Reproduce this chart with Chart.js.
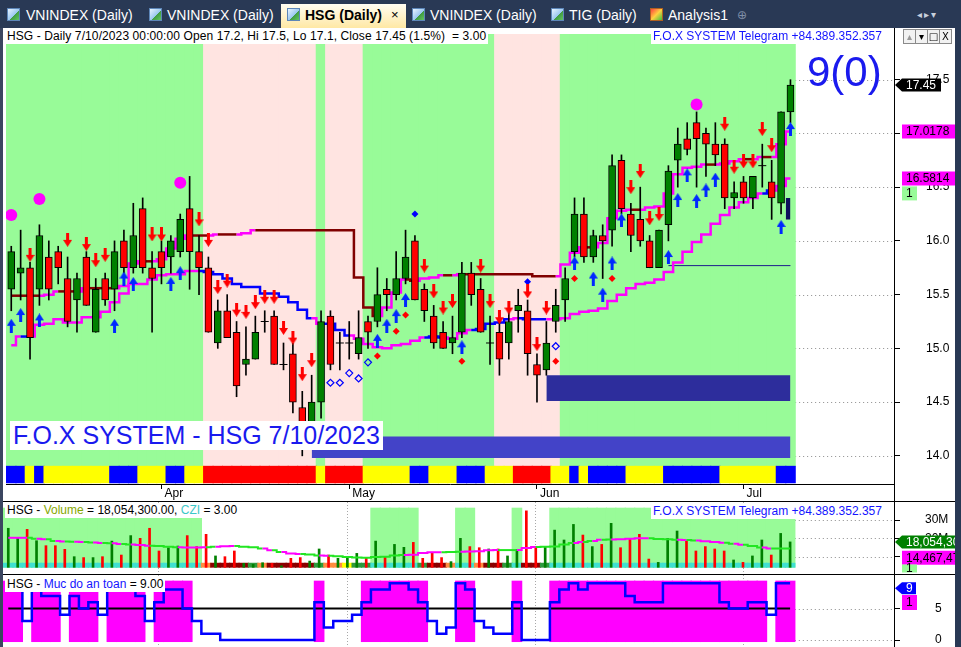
<!DOCTYPE html>
<html>
<head>
<meta charset="utf-8">
<title>HSG (Daily)</title>
<script src="https://cdn.jsdelivr.net/npm/chart.js"></script>
<style>
  html, body { margin: 0; padding: 0; background: #fff; }
  #screen { position: relative; width: 961px; height: 647px; overflow: hidden; background: #fff;
            font-family: "Liberation Sans", Arial, sans-serif; }
  canvas { position: absolute; left: 0; }
  #tabs { position: absolute; left: 0; top: 0; width: 961px; height: 28px; background: #293955; }
  .tab { position: absolute; top: 6px; height: 18px; line-height: 18px; font-size: 14px; color: #fff; white-space: nowrap; }
  .ico { position: absolute; top: 8px; width: 13px; height: 13px; box-sizing: border-box;
         background: linear-gradient(135deg, #e8f4ff 0%, #9cc8f0 55%, #3f9b3f 56%, #62c462 100%); border: 1px solid #5d86b8; }
  #activeTab { position: absolute; left: 281px; top: 4px; width: 125px; height: 24px;
               background: linear-gradient(#fffdf2, #ffe8a4); }
  .lbl { position: absolute; background: #fff; font-size: 12px; height: 15px; line-height: 15px;
         white-space: pre; padding: 0 2px; color: #000; }
  .blue { color: #1414ff; }
  .hline { position: absolute; left: 0; width: 955px; height: 1px; background: #000; }
  .btn { position: absolute; top: 29px; width: 11px; height: 13px; border: 1px solid #8a8a8a; background: #f2f2f2;
         font-size: 10px; line-height: 13px; text-align: center; color: #000; font-family: "DejaVu Sans", sans-serif; }
</style>
</head>
<body>
<div id="screen">
  <div id="tabs">
    <div id="activeTab"></div>
    <i class="ico" style="left:7px"></i><div class="tab" style="left:26px">VNINDEX (Daily)</div>
    <i class="ico" style="left:149px"></i><div class="tab" style="left:167px">VNINDEX (Daily)</div>
    <i class="ico" style="left:287px"></i><div class="tab" style="left:305px;color:#000;font-weight:bold">HSG (Daily)</div>
    <div class="tab" style="left:391px;color:#000;font-size:13px">×</div>
    <i class="ico" style="left:412px"></i><div class="tab" style="left:430px">VNINDEX (Daily)</div>
    <i class="ico" style="left:551px"></i><div class="tab" style="left:569px">TIG (Daily)</div>
    <i class="ico" style="left:650px;background:linear-gradient(135deg,#ff4040 0%,#ffd040 50%,#40c040 100%);border-color:#b06020"></i>
    <div class="tab" style="left:668px">Analysis1</div>
    <div class="tab" style="left:737px;color:#8090a8;font-family:'DejaVu Sans',sans-serif;font-size:12px">⊕</div>
    <div class="tab" style="left:917px;color:#c8d0dc;font-family:'DejaVu Sans',sans-serif;font-size:10px;letter-spacing:2px">◂▸▾</div>
  </div>

  <canvas id="priceChart" width="955" height="473" style="top:28px"></canvas>
  <canvas id="volChart" width="955" height="72" style="top:502px"></canvas>
  <canvas id="safeChart" width="955" height="72" style="top:575px"></canvas>

  <div class="hline" style="top:501px"></div>
  <div class="hline" style="top:574px"></div>
  <div style="position:absolute;left:894px;top:28px;width:1px;height:619px;background:#000"></div>
  <div style="position:absolute;left:0;top:28px;width:3px;height:619px;background:#3b4660"></div>
  <div style="position:absolute;left:955px;top:28px;width:6px;height:619px;background:#293955"></div>

  <div id="lblMain" class="lbl" style="left:5px;top:29px;letter-spacing:0.1px"></div>
  <div class="lbl blue" style="left:651px;top:29px">F.O.X SYSTEM Telegram +84.389.352.357</div>
  <div class="btn" style="left:903px;color:#999">▴</div>
  <div class="btn" style="left:915px">▾</div>
  <div class="btn" style="left:927px">□</div>
  <div class="btn" style="left:939px">X</div>
  <div style="position:absolute;left:807px;top:47px;font-size:42px;line-height:50px;color:#1a1aee">9(0)</div>
  <div style="position:absolute;left:10px;top:421px;width:370px;height:29px;line-height:29px;padding-left:3px;background:#fff;color:#1a1aee;font-size:25px;white-space:nowrap">F.O.X SYSTEM - HSG 7/10/2023</div>

  <div id="lblVol" class="lbl" style="left:5px;top:503px"></div>
  <div class="lbl blue" style="left:651px;top:504px">F.O.X SYSTEM Telegram +84.389.352.357</div>
  <div id="lblSafe" class="lbl" style="left:5px;top:577px"></div>
</div>

<script>
// HSG daily, 10 Mar - 10 Jul 2023

const opens = [15.55,15.7,15.75,15.55,15.85,15.9,15.65,15.45,15.85,15.15,
  15.65,15.55,16.0,15.75,16.3,15.75,15.9,15.85,15.9,16.3,
  15.9,15.75,15.05,15.35,15.15,14.85,14.9,15.25,15.3,14.85,
  14.95,14.45,14.3,14.5,15.3,15.05,15.05,14.95,15.25,15.25,
  15.55,15.5,15.65,16.0,15.55,15.3,15.15,15.05,15.15,15.7,
  15.55,15.05,15.15,15.05,15.35,15.35,14.85,14.8,15.25,15.45,
  15.9,16.25,15.85,16.05,16.1,16.75,16.25,16.2,16.0,15.75,
  16.15,16.75,16.95,17.1,17.0,16.9,16.9,16.4,16.55,16.4,
  16.7,16.55,16.35,17.2];
const highs = [15.95,16.1,15.8,16.15,16.0,15.95,15.85,15.7,15.9,15.65,
  15.7,16.0,16.1,16.35,16.4,15.9,16.0,16.05,16.25,16.6,
  16.05,15.85,15.45,15.5,15.25,15.2,15.3,15.35,15.35,15.05,
  15.05,14.6,14.75,15.35,15.35,15.15,15.25,15.35,15.3,15.75,
  15.65,15.9,16.1,16.05,15.6,15.4,15.25,15.3,15.8,15.8,
  15.65,15.3,15.25,15.35,15.55,15.45,14.95,15.25,15.55,15.75,
  16.4,16.4,16.1,16.15,16.8,16.8,16.35,16.5,16.05,16.1,
  16.7,17.05,17.1,17.2,17.05,17.1,16.95,16.55,16.6,16.6,
  16.9,16.75,17.2,17.5];
const lows = [15.35,15.45,14.9,15.4,15.45,15.6,15.2,15.15,15.4,15.15,
  15.4,15.35,15.7,15.7,15.7,15.15,15.6,15.7,15.85,15.55,
  15.5,15.15,15.0,15.1,14.55,14.75,14.9,15.15,14.85,14.8,
  14.4,14.0,14.25,14.35,14.8,14.8,14.9,14.9,15.0,15.2,
  15.35,15.45,15.6,15.45,15.25,15.0,15.0,14.95,15.1,15.4,
  15.15,14.85,14.75,14.9,15.15,14.75,14.5,14.75,15.15,15.25,
  15.85,15.8,15.8,15.65,15.95,16.25,15.9,15.95,15.75,15.75,
  16.0,16.5,16.8,16.5,16.6,16.7,16.3,16.3,16.35,16.3,
  16.5,16.2,16.25,17.1];
const closes = [15.9,15.75,15.1,16.05,15.55,15.75,15.25,15.65,15.4,15.55,
  15.45,15.9,15.75,16.05,15.75,15.65,15.75,16.0,16.2,15.9,
  15.75,15.15,15.35,15.1,14.65,14.9,15.15,15.25,14.85,14.85,
  14.5,14.3,14.5,15.25,14.85,15.05,15.05,15.1,15.15,15.5,
  15.5,15.65,15.85,15.45,15.35,15.05,15.0,15.1,15.7,15.5,
  15.15,15.05,14.9,15.25,15.4,14.95,14.75,15.05,15.4,15.65,
  16.25,15.85,16.05,16.0,16.7,16.3,16.05,16.0,15.75,16.1,
  16.65,16.9,16.85,16.95,16.9,16.8,16.4,16.45,16.4,16.6,
  16.7,16.4,17.2,17.45];

// volume in millions of shares, and its moving average
const volumes = [25.5,20.0,24.9,18.7,16.0,16.0,14.0,10.0,9.5,9.5,
  10.0,18.5,10.9,21.5,20.0,25.5,13.1,14.9,15.8,21.5,
  15.5,22.2,10.4,10.0,13.1,6.4,5.8,6.7,6.4,5.0,
  9.1,9.5,7.6,14.2,10.9,9.1,9.1,11.8,9.1,18.5,
  10.0,16.7,15.1,17.8,9.1,12.4,9.5,7.3,20.0,15.5,
  14.9,14.2,14.2,10.4,14.0,35.0,15.5,15.5,24.5,19.1,
  27.6,21.8,15.5,16.7,28.2,14.9,20.0,22.2,8.7,6.9,
  20.0,24.0,18.5,13.1,15.5,14.2,13.1,8.2,6.9,10.4,
  19.1,10.9,22.7,18.0543];
const volAvg = [20.3,20.3,20.3,19.8,19.5,18.5,18.3,18.1,18.0,17.8,
  17.5,17.3,16.9,16.7,16.4,16.0,15.8,15.4,15.2,15.0,
  15.0,15.2,15.4,15.7,15.8,15.4,15.2,14.5,13.5,12.5,
  11.8,11.4,11.2,10.7,10.5,10.2,9.8,9.5,9.4,9.8,
  10.0,10.6,10.9,11.0,12.0,12.4,12.4,12.6,12.7,12.8,
  13.0,13.5,13.6,13.6,13.6,14.8,15.3,15.4,15.6,16.6,
  17.4,18.0,18.5,19.2,19.4,19.5,19.8,20.0,20.0,19.7,
  19.5,19.3,19.1,18.8,18.4,18.0,17.6,17.0,16.5,15.8,
  15.0,14.5,14.5,14.46747];
// CZI state: 0 weak, 1 falling, 2 neutral, 3 strong, 4 turning
const czi = [3,3,3,3,3,3,3,3,3,3, 3,3,3,3,3,3,3,3,3,3,
  3,1,0,0,0,0,2,1,0,0, 0,0,0,2,1,1,4,2,2,3,
  3,3,3,3,2,0,0,1,3,3, 1,0,0,2,3,0,0,2,3,3,
  3,3,3,3,3,3,3,3,3,3, 3,3,3,3,3,3,3,3,3,3,
  3,3,3,3];

// trailing stop (lower line) and trend line (upper line)
const trailStop = [15.03,15.11,15.11,15.22,15.23,15.27,15.24,15.24,15.29,15.29,
  15.34,15.43,15.51,15.60,15.60,15.64,15.68,15.69,15.69,15.72,
  15.72,15.71,15.69,15.65,15.60,15.57,15.57,15.51,15.51,15.48,
  15.43,15.36,15.28,15.23,15.23,15.17,15.12,15.09,15.04,15.01,
  15.00,15.03,15.04,15.07,15.10,15.11,15.10,15.09,15.14,15.17,
  15.18,15.23,15.24,15.27,15.28,15.27,15.27,15.27,15.27,15.28,
  15.32,15.34,15.35,15.37,15.44,15.50,15.56,15.60,15.61,15.64,
  15.71,15.80,15.90,15.99,16.06,16.16,16.24,16.31,16.36,16.40,
  16.44,16.47,16.51,16.5814];
const trendLine = [15.49,15.49,15.49,15.49,15.50,15.53,15.53,15.53,15.56,15.56,
  15.56,15.56,15.58,15.79,15.81,15.81,15.83,15.93,16.02,16.05,
  16.05,16.05,16.06,16.06,16.06,16.07,16.10,16.10,16.10,16.10,
  16.10,16.10,16.10,16.10,16.10,16.10,16.10,15.66,15.38,15.30,
  15.38,15.52,15.64,15.63,15.65,15.66,15.68,15.68,15.69,15.69,
  15.69,15.69,15.69,15.69,15.69,15.69,15.67,15.67,15.67,15.78,
  15.89,15.94,15.94,15.98,16.21,16.28,16.29,16.29,16.31,16.32,
  16.44,16.62,16.68,16.69,16.71,16.71,16.72,16.74,16.76,16.76,
  16.78,16.78,16.90,17.0178];

// "Muc do an toan" (safety level 0-9)
const safety = [8,8,3,8,7,7,4,7,5,6, 4,8,8,8,7,3,6,8,8,5,
  3,1,1,0,0,0,0,0,0,0, 0,0,0,6,2,3,3,4,6,8,
  8,9,9,8,6,3,1,2,9,8, 3,2,1,1,6,0,0,0,6,8,
  9,8,9,9,9,9,7,6,6,6, 9,9,9,9,9,9,6,5,5,6,
  6,4,9,9];

// trend zones: 1 = up (green), 0 = down (pink)
const trendZone = [1,1,1,1,1,1,1,1,1,1, 1,1,1,1,1,1,1,1,1,1,
  1,0,0,0,0,0,0,0,0,0, 0,0,0,1,0,0,0,0,1,1,
  1,1,1,1,1,1,1,1,1,1, 1,1,0,0,0,0,0,0,0,1,
  1,1,1,1,1,1,1,1,1,1, 1,1,1,1,1,1,1,1,1,1,
  1,1,1,1];
const volZone = [1,1,1,1,1,1,1,1,1,1, 1,1,1,1,1,1,1,1,1,1,
  1,0,0,0,0,0,0,0,0,0, 0,0,0,0,0,0,0,0,0,1,
  1,1,1,1,0,0,0,0,1,1, 0,0,0,0,1,0,0,0,1,1,
  1,1,1,1,1,1,1,1,1,1, 1,1,1,1,1,1,1,1,1,1,
  1,1,1,1];
// bottom signal strip: 0 sell, 1 wait, 2 buy
const signalStrip = [2,2,1,2,1,1,1,1,1,1, 1,2,2,2,1,1,1,2,2,1,
  1,0,0,0,0,0,0,0,0,0, 0,0,0,1,0,0,0,0,1,1,
  1,1,1,2,2,1,1,1,2,2, 2,1,1,1,0,0,0,0,1,1,
  2,1,2,2,2,2,1,1,1,1, 2,2,2,2,2,2,1,1,1,1,
  1,1,2,2];

// signal markers (bar number, price level)
const sellBars = [3,7,9,10,11,16,17,21,22,23,24,25,26,27,28,29,30,31,32,33,45,46,47,48,51,52,53,54,56,57,58,67,68,69,70,77,78,79,80,81,82];
const sellLevels = [15.87,16.01,15.97,15.82,15.87,16.06,16.06,16.20,16.01,15.57,15.63,15.36,15.34,15.43,15.48,15.48,15.19,15.10,14.76,14.89,15.77,15.53,15.38,15.44,15.77,15.44,15.29,15.38,15.53,15.04,15.38,16.50,16.65,16.21,16.25,17.09,16.69,16.74,16.74,17.04,16.89];
const buyBars = [1,2,4,12,13,14,18,19,40,41,42,43,49,61,63,64,65,66,71,72,73,74,75,76,83,84];
const buyLevels = [15.21,15.31,15.26,15.21,15.65,15.60,15.60,15.70,15.07,15.21,15.30,15.45,15.01,15.79,15.65,15.50,15.79,16.19,15.85,16.38,16.61,16.37,16.47,16.57,16.13,17.04];
const peakBars = [1,4,19,74];
const peakLevels = [16.24,16.39,16.54,17.27];
const breakBars = [44,56];
const breakLevels = [16.25,15.62];
const weakBars = [35,36,37,38,39,59];
const weakLevels = [14.68,14.68,14.77,14.72,14.87,15.02];
const dotBars = [40,42,43,49,59,61,65];
const dotLevels = [14.93,15.16,15.31,14.88,14.88,15.65,15.65];

// price zones
const zoneFrom = [33,58,83.5];
const zoneTo = [84,84,84];
const zoneTop = [14.18,14.75,16.40];
const zoneBottom = [13.98,14.51,16.20];
const supportBars = [71,84];
const supportLevel = 15.77;

const monthBars = [17,37,57,79];
const monthNames = ['Apr','May','Jun','Jul'];
const priceTicks = [14,14.5,15,15.5,16,16.5,17,17.5];
const volTicks = [10,20,30];
const safetyTicks = [0,5];

// ---------------------------------------------------------------

Chart.defaults.font.family = '"Liberation Sans", Arial, sans-serif';
Chart.defaults.font.size = 12;
Chart.defaults.color = '#000';

const N = opens.length;
const barIdx = opens.map((_, i) => i + 1);
const X_MIN = 0.44, X_MAX = 95.03;
const GREEN_BG = '#98fb98', PINK_BG = '#ffe4e1', MAGENTA = '#ff00ff';
const UP = '#008000', DOWN = '#ff0000';
const VOL_BASE = 4.2, SAFE_LEVEL = 5;

const pts = (bars, levels) => bars.map((b, i) => ({ x: b, y: levels[i] }));
const series = values => values.map((v, i) => ({ x: i + 1, y: v }));
const candleColor = i => closes[i] >= opens[i] ? UP : DOWN;

function makeArrow(color, up) {
    const c = document.createElement('canvas');
    c.width = 9; c.height = 14;
    const g = c.getContext('2d');
    g.fillStyle = color;
    g.beginPath();
    if (up) {
        g.moveTo(4.5, 0); g.lineTo(9, 7); g.lineTo(6, 7); g.lineTo(6, 14);
        g.lineTo(3, 14); g.lineTo(3, 7); g.lineTo(0, 7);
    } else {
        g.moveTo(3, 0); g.lineTo(6, 0); g.lineTo(6, 7); g.lineTo(9, 7);
        g.lineTo(4.5, 14); g.lineTo(0, 7); g.lineTo(3, 7);
    }
    g.closePath();
    g.fill();
    return c;
}

// dotted grid only in the empty area right of the last bar
const rightGrid = {
    id: 'rightGrid',
    beforeDatasetsDraw(chart) {
        const { ctx, chartArea, scales: { x, y } } = chart;
        const x0 = x.getPixelForValue(N + 0.5);
        ctx.save();
        ctx.strokeStyle = '#8c8c8c';
        ctx.lineWidth = 1;
        ctx.setLineDash([1, 3]);
        y.ticks.forEach(t => {
            const py = Math.round(y.getPixelForValue(t.value)) + 0.5;
            ctx.beginPath();
            ctx.moveTo(x0, py);
            ctx.lineTo(chartArea.right, py);
            ctx.stroke();
        });
        ctx.restore();
    }
};

// value tags on the right axis
const tagPlugin = {
    id: 'tags',
    afterDraw(chart, args, opts) {
        const { ctx, chartArea, scales: { y } } = chart;
        ctx.save();
        ctx.font = '12px "Liberation Sans", Arial, sans-serif';
        ctx.textBaseline = 'middle';
        (opts.items || []).forEach(t => {
            const cy = y.getPixelForValue(t.value) + (t.dy || 0);
            const h = t.h || 14, w = t.w || 53;
            const x0 = chartArea.right + (t.arrow ? 1 : 8);
            ctx.fillStyle = t.bg;
            ctx.beginPath();
            if (t.arrow) {
                ctx.moveTo(x0, cy);
                ctx.lineTo(x0 + 7, cy - h / 2);
                ctx.lineTo(x0 + 7 + w, cy - h / 2);
                ctx.lineTo(x0 + 7 + w, cy + h / 2);
                ctx.lineTo(x0 + 7, cy + h / 2);
                ctx.closePath();
            } else {
                ctx.rect(x0, cy - h / 2, w, h);
            }
            ctx.fill();
            ctx.fillStyle = t.fg;
            ctx.fillText(t.text, x0 + (t.arrow ? 11 : 4), cy + 0.5);
        });
        ctx.restore();
    }
};

function rightAxis(min, max, ticks, fmt, pad) {
    return {
        position: 'right', min, max,
        afterBuildTicks: s => { s.ticks = ticks.map(v => ({ value: v })); },
        grid: { drawOnChartArea: false, drawTicks: true, tickLength: 6, tickColor: '#000' },
        border: { display: true, color: '#000', width: 1 },
        ticks: { crossAlign: 'center', padding: pad, color: '#000', callback: fmt },
        afterFit: s => { s.width = 61; s.paddingTop = 0; s.paddingBottom = 0; }
    };
}

function panelAxisX() {
    return {
        type: 'linear', min: X_MIN, max: X_MAX, offset: false,
        afterBuildTicks: s => { s.ticks = monthBars.map(v => ({ value: v })); },
        grid: { offset: false, drawOnChartArea: true, drawTicks: false, color: '#a8a8a8' },
        border: { display: false, dash: [1, 2] },
        ticks: { display: false },
        afterFit: s => { s.height = 0; s.paddingLeft = 0; s.paddingRight = 0; }
    };
}

function baseOptions(x, y, tags) {
    return {
        responsive: false, animation: false, events: [],
        layout: { padding: { left: 3, top: 0, right: 0, bottom: 0 } },
        plugins: { legend: { display: false }, tooltip: { enabled: false }, tags: { items: tags } },
        scales: { x, y }
    };
}

const fmtVol = v => Math.round(v * 1e6).toLocaleString('en-US');
const lastO = opens[N - 1], lastH = highs[N - 1], lastL = lows[N - 1], lastC = closes[N - 1];
const chg = ((lastC / closes[N - 2] - 1) * 100).toFixed(1);

document.getElementById('lblMain').textContent =
    `HSG - Daily 7/10/2023 00:00:00 Open ${lastO}, Hi ${lastH}, Lo ${lastL}, Close ${lastC} (${chg}%)  = 3.00`;
document.getElementById('lblVol').innerHTML =
    `HSG - <span style="color:#86a800">Volume</span> = ${(volumes[N - 1] * 1e6).toLocaleString('en-US', { minimumFractionDigits: 2 })}, <span style="color:#3cc8c8">CZI</span> = 3.00`;
document.getElementById('lblSafe').innerHTML =
    `HSG - <span class="blue">Muc do an toan</span> = ${safety[N - 1].toFixed(2)}`;

// ---------- price panel ----------
const bodyIdx = [], dojiIdx = [];
opens.forEach((o, i) => (o === closes[i] ? dojiIdx : bodyIdx).push(i));
const stripColors = ['#ff0000', '#ffff00', '#0000ff'];
const zoneColors = ['#4343c8', '#2d2d9c', '#0e0e5c'];

const priceDatasets = [
    { type: 'line', data: pts(sellBars, sellLevels), showLine: false, pointStyle: makeArrow('#ff0000', false), pointRadius: 5, order: 1 },
    { type: 'line', data: pts(buyBars, buyLevels), showLine: false, pointStyle: makeArrow('#0028ff', true), pointRadius: 5, order: 1 },
    { type: 'line', data: pts(peakBars, peakLevels), showLine: false, pointStyle: 'circle', pointRadius: 6,
      pointBackgroundColor: MAGENTA, pointBorderWidth: 0, order: 1 },
    { type: 'line', data: pts(breakBars, breakLevels), showLine: false, pointStyle: 'rectRot', pointRadius: 3.5,
      pointBackgroundColor: '#0000ff', pointBorderWidth: 0, order: 1 },
    { type: 'line', data: pts(weakBars, weakLevels), showLine: false, pointStyle: 'rectRot', pointRadius: 3.5,
      pointBackgroundColor: 'rgba(0,0,0,0)', pointBorderColor: '#0000ff', pointBorderWidth: 1.2, order: 1 },
    { type: 'line', data: pts(dotBars, dotLevels), showLine: false, pointStyle: 'rectRot', pointRadius: 3.5,
      pointBackgroundColor: '#ff0000', pointBorderWidth: 0, order: 1 },
    { type: 'line', data: dojiIdx.map(i => ({ x: i + 1, y: closes[i] })), showLine: false, pointStyle: 'line',
      pointRadius: 4, pointBorderColor: '#000', pointBorderWidth: 1, order: 2 },
    { type: 'bar', data: bodyIdx.map(i => ({ x: i + 1, y: [opens[i], closes[i]] })),
      backgroundColor: bodyIdx.map(candleColor), borderColor: '#000', borderWidth: 1, borderSkipped: false,
      barThickness: 7, grouped: false, order: 3 },
    { type: 'bar', data: barIdx.map((b, i) => ({ x: b, y: [lows[i], highs[i]] })),
      backgroundColor: '#000', barThickness: 1, grouped: false, order: 4 },
    { type: 'line', data: series(trailStop), stepped: 'middle', borderWidth: 2.5, pointRadius: 0, order: 5,
      segment: { borderColor: c => closes[c.p1DataIndex] < trailStop[c.p1DataIndex] ? '#0000ff' : MAGENTA } },
    { type: 'line', data: series(trendLine), stepped: 'middle', borderWidth: 2.5, pointRadius: 0, order: 5,
      segment: { borderColor: c => c.p1.parsed.y > c.p0.parsed.y ? MAGENTA : '#800000' } },
    { type: 'line', data: supportBars.map(b => ({ x: b, y: supportLevel })), borderColor: '#1c1c8c',
      borderWidth: 1, pointRadius: 0, order: 5 },
    ...zoneFrom.map((f, k) => ({
        type: 'line', data: [{ x: f, y: zoneTop[k] }, { x: zoneTo[k], y: zoneTop[k] }],
        borderColor: 'rgba(0,0,0,0)', borderWidth: 0, pointRadius: 0,
        backgroundColor: zoneColors[k], fill: { value: zoneBottom[k] }, order: 6
    })),
    { type: 'bar', data: barIdx.map(b => ({ x: b, y: [13.748, 13.904] })),
      backgroundColor: signalStrip.map(s => stripColors[s]), barThickness: 10, grouped: false, order: 7 },
    { type: 'bar', data: barIdx.map(b => ({ x: b, y: [13.904, 17.925] })),
      backgroundColor: trendZone.map(z => z ? GREEN_BG : PINK_BG), barThickness: 10, grouped: false, order: 8 }
];

const priceX = {
    type: 'linear', min: X_MIN, max: X_MAX, offset: false,
    afterBuildTicks: s => { s.ticks = monthBars.map(v => ({ value: v })); },
    grid: { offset: false, drawOnChartArea: false, drawTicks: true, tickLength: 5, tickColor: '#000' },
    border: { display: true, color: '#000', width: 1 },
    ticks: { align: 'start', labelOffset: 3, padding: -3, maxRotation: 0, autoSkip: false, color: '#000',
             callback: v => monthNames[monthBars.indexOf(v)] },
    afterFit: s => { s.height = 17; s.paddingLeft = 0; s.paddingRight = 0; }
};

new Chart(document.getElementById('priceChart'), {
    type: 'bar',
    data: { datasets: priceDatasets },
    options: baseOptions(priceX, rightAxis(13.738, 17.925, priceTicks, v => v.toFixed(1), 26), [
        { value: lastC, text: lastC.toFixed(2), bg: '#000', fg: '#fff', arrow: true, w: 39, h: 13 },
        { value: trendLine[N - 1], text: trendLine[N - 1].toFixed(4), bg: MAGENTA, fg: '#000' },
        { value: trailStop[N - 1], text: trailStop[N - 1].toFixed(4), bg: MAGENTA, fg: '#000' },
        { value: trailStop[N - 1], dy: 15, text: '1', bg: GREEN_BG, fg: '#000', w: 15 }
    ]),
    plugins: [rightGrid, tagPlugin]
});

// ---------- volume panel ----------
const cziColors = ['#8b0000', '#ff8c40', '#2e9a3e', '#40e0d0', '#ffff00'];

new Chart(document.getElementById('volChart'), {
    type: 'bar',
    data: { datasets: [
        { type: 'line', data: series(volAvg), stepped: 'middle', borderWidth: 2, pointRadius: 0, order: 1,
          segment: { borderColor: c => {
              const i = c.p1DataIndex;
              return closes[i] >= closes[i - 1] ? '#22e622' : MAGENTA;
          } } },
        { type: 'bar', data: barIdx.map((b, i) => ({ x: b, y: [VOL_BASE, volumes[i]] })),
          backgroundColor: barIdx.map((b, i) => candleColor(i)), barThickness: 2, grouped: false, order: 2 },
        { type: 'bar', data: barIdx.map(b => ({ x: b, y: [VOL_BASE, 6.5] })),
          backgroundColor: czi.map(c => cziColors[c]), barThickness: 10, grouped: false, order: 3 },
        { type: 'bar', data: barIdx.filter((b, i) => volZone[i]).map(b => ({ x: b, y: [VOL_BASE, 36.55] })),
          backgroundColor: GREEN_BG, barThickness: 10, grouped: false, order: 4 }
    ] },
    options: baseOptions(panelAxisX(), rightAxis(0.55, 39.83, volTicks, v => v + 'M', 25), [
        { value: volumes[N - 1], text: fmtVol(volumes[N - 1]), bg: '#008000', fg: '#fff', arrow: true, w: 60, h: 13 },
        { value: volAvg[N - 1], dy: 9.3, text: fmtVol(volAvg[N - 1]), bg: MAGENTA, fg: '#000' },
        { value: volAvg[N - 1], dy: 20, text: '1', bg: GREEN_BG, fg: '#000', w: 15, h: 8 }
    ]),
    plugins: [rightGrid, tagPlugin]
});

// ---------- safety level panel ----------
new Chart(document.getElementById('safeChart'), {
    type: 'bar',
    data: { datasets: [
        { type: 'line', data: series(safety), stepped: 'middle', borderColor: '#0000ff', borderWidth: 2.5,
          pointRadius: 0, order: 1 },
        { type: 'line', data: barIdx.map(b => ({ x: b, y: SAFE_LEVEL })), borderColor: '#000', borderWidth: 2,
          pointRadius: 0, order: 2 },
        { type: 'bar', data: barIdx.filter((b, i) => safety[i] >= SAFE_LEVEL).map(b => ({ x: b, y: [-0.27, 9.37] })),
          backgroundColor: MAGENTA, barThickness: 10, grouped: false, order: 3 }
    ] },
    options: baseOptions(panelAxisX(), rightAxis(-1.11, 10.32, safetyTicks, v => String(v), 35), [
        { value: safety[N - 1], dy: 5, text: String(safety[N - 1]), bg: '#0000ff', fg: '#fff', arrow: true, w: 14, h: 12 },
        { value: safety[N - 1], dy: 19.2, text: '1', bg: MAGENTA, fg: '#000', w: 15, h: 15 }
    ]),
    plugins: [rightGrid, tagPlugin]
});
</script>
</body>
</html>
